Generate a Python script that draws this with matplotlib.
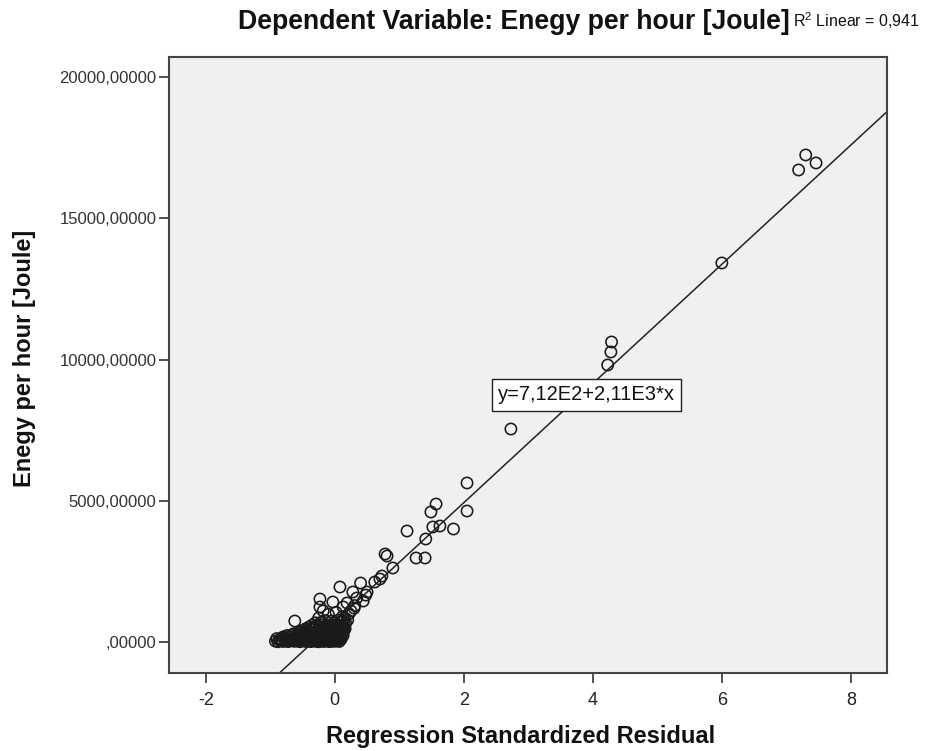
import matplotlib
matplotlib.use("Agg")
import matplotlib.pyplot as plt

# ---------------- data ----------------
# outlying / upper points (standardized residual, energy per hour)
resid_hi = [7.19, 7.30, 7.46, 6.00, 4.29, 4.28, 4.23, 2.73, 2.05, 2.05, 1.57, 1.49,
            1.52, 1.63, 1.84, 1.12, 1.41, 0.78, 0.81, 1.26, 1.40, 0.90, 0.73, 0.70,
            0.62, 0.40, 0.50, 0.28, 0.34, 0.08, -0.23, -0.03, 0.19, -0.23, -0.62,
            0.13, 0.44, 0.25, 0.31, 0.48]
energy_hi = [16709, 17240, 16957, 13417, 10620, 10266, 9806, 7540, 5629, 4637, 4885, 4602,
             4071, 4106, 4000, 3929, 3646, 3115, 3044, 2974, 2974, 2620, 2336, 2230,
             2124, 2089, 1770, 1770, 1558, 1947, 1522, 1416, 1381, 1239, 743,
             1240, 1450, 1100, 1290, 1660]

# dense cluster near the origin
resid_lo = [-0.92, -0.88, -0.85, -0.80, -0.76, -0.72, -0.68, -0.63, -0.58, -0.54, -0.50, -0.45,
            -0.41, -0.37, -0.33, -0.29, -0.25, -0.21, -0.17, -0.13, -0.09, -0.05, -0.01, 0.03, 0.07,
            -0.90, -0.84, -0.78, -0.71, -0.65, -0.59, -0.52, -0.46, -0.40, -0.34, -0.27, -0.21,
            -0.15, -0.08, -0.02, 0.05, 0.10,
            -0.74, -0.67, -0.60, -0.53, -0.47, -0.41, -0.35, -0.28, -0.22, -0.16, -0.10, -0.04,
            0.02, 0.08, 0.13,
            -0.55, -0.48, -0.42, -0.36, -0.30, -0.24, -0.18, -0.12, -0.06, 0.00, 0.06, 0.12,
            -0.45, -0.38, -0.31, -0.25, -0.19, -0.13, -0.07, -0.01, 0.05, 0.11, 0.16,
            -0.35, -0.28, -0.20, -0.12, -0.05, 0.02, 0.09, 0.15,
            -0.15, -0.05, 0.05, 0.12, 0.20,
            -0.10, 0.02, 0.12, 0.22, -0.18, 0.30,
            -0.86, -0.82, -0.74, -0.66, -0.60, -0.52, -0.43, -0.35, -0.27, -0.19, -0.11, -0.03, 0.05,
            -0.80, -0.70, -0.62, -0.56, -0.49, -0.43, -0.37, -0.31, -0.24, -0.18, -0.12, -0.06, 0.03, 0.09,
            -0.64, -0.57, -0.50, -0.44, -0.38, -0.32, -0.26, -0.20, -0.14, -0.08, -0.01, 0.05, 0.11,
            -0.50, -0.43, -0.34, -0.27, -0.21, -0.15, -0.09, -0.03, 0.03, 0.09, 0.14,
            -0.40, -0.33, -0.23, -0.16, -0.09, -0.02, 0.06, 0.13,
            -0.30, -0.22, -0.10, 0.00, 0.08, 0.17, -0.25, 0.15]
energy_lo = [30, 10, 60, 20, 40, 15, 50, 25, 35, 10, 45, 20,
             30, 15, 40, 25, 10, 35, 20, 45, 15, 30, 25, 40, 20,
             120, 110, 130, 115, 125, 120, 110, 130, 115, 125, 120, 110,
             130, 115, 125, 120, 110,
             230, 240, 220, 235, 225, 245, 230, 220, 240, 235, 225, 230,
             240, 220, 235,
             350, 340, 360, 345, 355, 350, 340, 360, 345, 355, 350, 340,
             470, 460, 480, 465, 475, 470, 460, 480, 465, 475, 470,
             600, 590, 610, 595, 605, 600, 590, 610,
             760, 740, 770, 750, 780,
             980, 1050, 900, 1000, 1100, 1200,
             70, 75, 65, 80, 70, 75, 65, 80, 70, 75, 65, 80, 70,
             180, 175, 185, 170, 180, 175, 185, 170, 180, 175, 185, 170, 180, 175,
             290, 285, 295, 280, 290, 285, 295, 280, 290, 285, 295, 280, 290,
             410, 405, 415, 400, 410, 405, 415, 400, 410, 405, 415,
             530, 525, 535, 520, 530, 525, 535, 520,
             680, 690, 670, 680, 690, 670, 850, 860]

intercept = 712.0
slope = 2110.0
eq_label = "y=7,12E2+2,11E3*x"
r2_label = "R$^2$ Linear = 0,941"
x_ticks = [-2, 0, 2, 4, 6, 8]
y_ticks = [0, 5000, 10000, 15000, 20000]
y_tick_labels = [",00000", "5000,00000", "10000,00000", "15000,00000", "20000,00000"]

# ---------------- fonts ----------------
base = "Liberation Sans"
plt.rcParams['font.family'] = [base, 'DejaVu Sans']
plt.rcParams['mathtext.fontset'] = 'custom'
plt.rcParams['mathtext.rm'] = base

# ---------------- figure ----------------
W, H = 933, 751
fig = plt.figure(figsize=(W / 100, H / 100), dpi=100)
ax = fig.add_axes([169 / W, 1 - 673 / H, (887 - 169) / W, (673 - 57) / H])
ax.set_facecolor("#f0f0f0")

xlim = (-2.57, 8.56)
ylim = (-1097, 20708)
ax.set_xlim(*xlim)
ax.set_ylim(*ylim)

# fit line
ax.plot(list(xlim), [intercept + slope * xlim[0], intercept + slope * xlim[1]],
        color="#222222", lw=1.1, zorder=2)

mk = dict(s=66, facecolors="none", edgecolors="#1a1a1a", linewidths=1.15, zorder=3)
ax.scatter(resid_lo, energy_lo, **mk)
ax.scatter(resid_hi, energy_hi, **mk)

# equation label
ax.text(3.907, 8744, eq_label, ha="center", va="center", fontsize=14.5,
        color="#111111", zorder=5,
        bbox=dict(boxstyle="square,pad=0.3", facecolor="white", edgecolor="#222222", lw=1.0))

for s in ax.spines.values():
    s.set_color("#444444")
    s.set_linewidth(1.5)

ax.set_xticks(x_ticks)
ax.set_xticklabels([str(t) for t in x_ticks], fontsize=13, color="#222222")
ax.set_yticks(y_ticks)
ax.set_yticklabels(y_tick_labels, fontsize=12, color="#333333")
ax.tick_params(axis="both", direction="out", length=7, width=1.2, color="#333333")
ax.tick_params(axis="x", pad=7)
ax.tick_params(axis="y", pad=2)

fig.text(521 / W, 1 - 737 / H, "Regression Standardized Residual", ha="center", va="center",
         fontsize=17, fontweight="bold", color="#111111")
fig.text(25 / W, 1 - 358 / H, "Enegy per hour [Joule]", ha="center", va="center",
         rotation=90, fontsize=17, fontweight="bold", color="#111111")

fig.text(790 / W, 1 - 29 / H, "Dependent Variable: Enegy per hour [Joule]", ha="right",
         va="baseline", fontsize=19.2, fontweight="bold", color="#111111")
fig.text(793 / W, 1 - 27 / H, r2_label, ha="left", va="baseline", fontsize=11.5,
         color="#111111")

fig.savefig("out.png", dpi=100)
